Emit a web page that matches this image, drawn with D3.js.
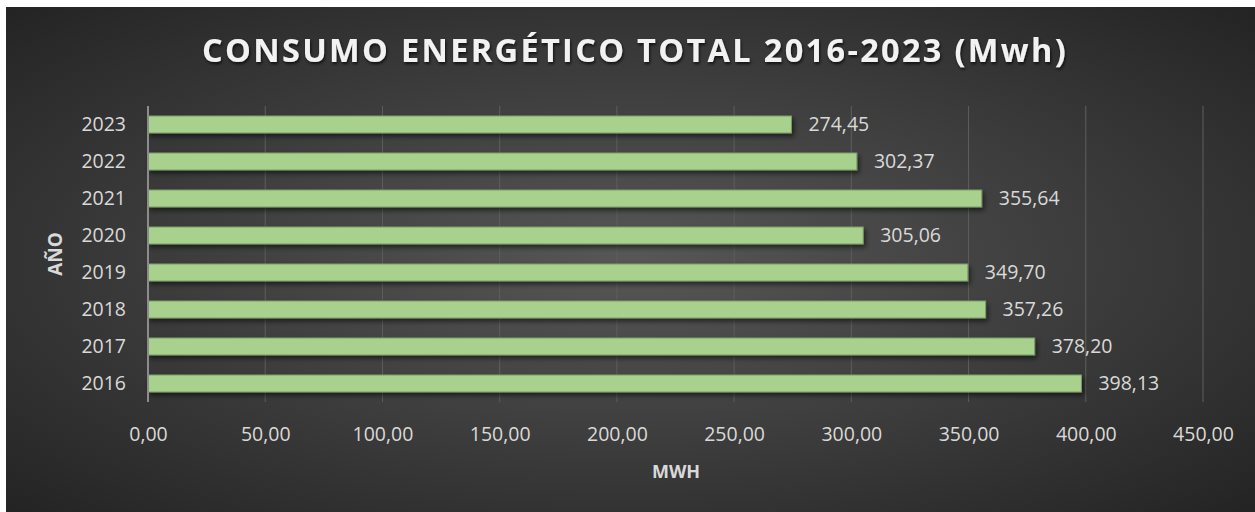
<!DOCTYPE html>
<html>
<head>
<meta charset="utf-8">
<script src="https://cdn.jsdelivr.net/npm/d3@7"></script>
<style>
  html, body { margin: 0; padding: 0; background: #fff; }
  svg { display: block; }
</style>
</head>
<body>
<div class="chart"></div>
<script>
// data
var years = ["2016", "2017", "2018", "2019", "2020", "2021", "2022", "2023"];
var consumo = [398.13, 378.20, 357.26, 349.70, 305.06, 355.64, 302.37, 274.45];
var xTicks = [0, 50, 100, 150, 200, 250, 300, 350, 400, 450];

var w = 1255, h = 512;
var margin = {top: 106, right: 52, bottom: 110, left: 148};

var es = d3.formatLocale({decimal: ",", thousands: ".", grouping: [3], currency: ["", "€"]});
var fmt = es.format(".2f");

var svg = d3.select("div.chart")
  .append("svg")
  .attr("width", w)
  .attr("height", h);

var defs = svg.append("defs");
var grad = defs.append("radialGradient")
  .attr("id", "bg")
  .attr("cx", "50%").attr("cy", "50%").attr("r", "70%");
grad.append("stop").attr("offset", "0%").attr("stop-color", "#575757");
grad.append("stop").attr("offset", "100%").attr("stop-color", "#242424");

var shadow = defs.append("filter").attr("id", "shadow")
  .attr("x", "-5%").attr("y", "-50%").attr("width", "110%").attr("height", "250%");
shadow.append("feDropShadow")
  .attr("dx", 2).attr("dy", 3).attr("stdDeviation", 2.5)
  .attr("flood-color", "#000").attr("flood-opacity", 0.55);

var tshadow = defs.append("filter").attr("id", "tshadow");
tshadow.append("feDropShadow")
  .attr("dx", 1).attr("dy", 2).attr("stdDeviation", 1.5)
  .attr("flood-color", "#000").attr("flood-opacity", 0.7);

// background
svg.append("rect")
  .attr("x", 6).attr("y", 7)
  .attr("width", w - 6).attr("height", h - 7)
  .attr("fill", "url(#bg)");

//scales
var x = d3.scaleLinear()
  .domain([0, 450])
  .range([margin.left, w - margin.right]);

var y = d3.scaleBand()
  .domain(years.slice().reverse())
  .range([margin.top, h - margin.bottom])
  .paddingInner(0.54)
  .paddingOuter(0.27);

// gridlines
svg.append("g")
  .selectAll("line")
  .data(xTicks.slice(1))
  .enter()
  .append("line")
    .attr("x1", d => x(d)).attr("x2", d => x(d))
    .attr("y1", margin.top).attr("y2", h - margin.bottom)
    .attr("stroke", "#5e5e5e")
    .attr("stroke-width", 1);

// bars
svg.append("g")
  .selectAll("rect")
  .data(years)
  .enter()
  .append("rect")
    .attr("x", x(0))
    .attr("y", d => y(d))
    .attr("width", (d, i) => x(consumo[i]) - x(0))
    .attr("height", y.bandwidth())
    .attr("fill", "#a9d18e")
    .attr("stroke", "#7a9c66")
    .attr("stroke-width", 1)
    .attr("filter", "url(#shadow)");

// data labels
svg.append("g")
  .selectAll("text")
  .data(years)
  .enter()
  .append("text")
    .attr("x", (d, i) => x(consumo[i]) + 17)
    .attr("y", d => y(d) + y.bandwidth() / 2)
    .attr("dy", "0.35em")
    .attr("fill", "#d9d9d9")
    .attr("font-family", "Open Sans")
    .attr("font-size", 19.5)
    .text((d, i) => fmt(consumo[i]));

// y axis
var yAxis = svg.append("g")
  .attr("transform", `translate(${x(0)},0)`)
  .call(d3.axisLeft(y).tickSize(0).tickPadding(22));
yAxis.select(".domain")
  .attr("stroke", "#8c8c8c")
  .attr("stroke-width", 2)
  .attr("d", `M0,${margin.top}V${h - margin.bottom}`);
yAxis.selectAll("text")
  .attr("fill", "#d9d9d9")
  .attr("font-family", "Open Sans")
  .attr("font-size", 19.5);

// x axis
var xAxis = svg.append("g")
  .attr("transform", `translate(0,${h - margin.bottom})`)
  .call(d3.axisBottom(x).tickValues(xTicks).tickFormat(fmt).tickSize(0).tickPadding(25));
xAxis.select(".domain").remove();
xAxis.selectAll("text")
  .attr("fill", "#d9d9d9")
  .attr("font-family", "Open Sans")
  .attr("font-size", 19.5);

// title
var title = svg.append("text")
  .attr("x", 635)
  .attr("y", 62)
  .attr("text-anchor", "middle")
  .attr("fill", "#f2f2f2")
  .attr("font-family", "Open Sans")
  .attr("font-weight", "bold")
  .attr("font-size", 32.5)
  .attr("filter", "url(#tshadow)")
  .text("CONSUMO ENERGÉTICO TOTAL 2016-2023 (Mwh)");
var tw = title.node().getComputedTextLength();
var n = title.text().length;
title.attr("letter-spacing", ((866 - tw) / n) + "px");

// axis titles
svg.append("text")
  .attr("transform", "translate(62,254) rotate(-90)")
  .attr("text-anchor", "middle")
  .attr("fill", "#d9d9d9")
  .attr("font-family", "Open Sans")
  .attr("font-weight", "bold")
  .attr("font-size", 19)
  .text("AÑO");

svg.append("text")
  .attr("x", 676)
  .attr("y", 478)
  .attr("text-anchor", "middle")
  .attr("fill", "#d9d9d9")
  .attr("font-family", "Open Sans")
  .attr("font-weight", "bold")
  .attr("font-size", 18)
  .text("MWH");
</script>
</body>
</html>
